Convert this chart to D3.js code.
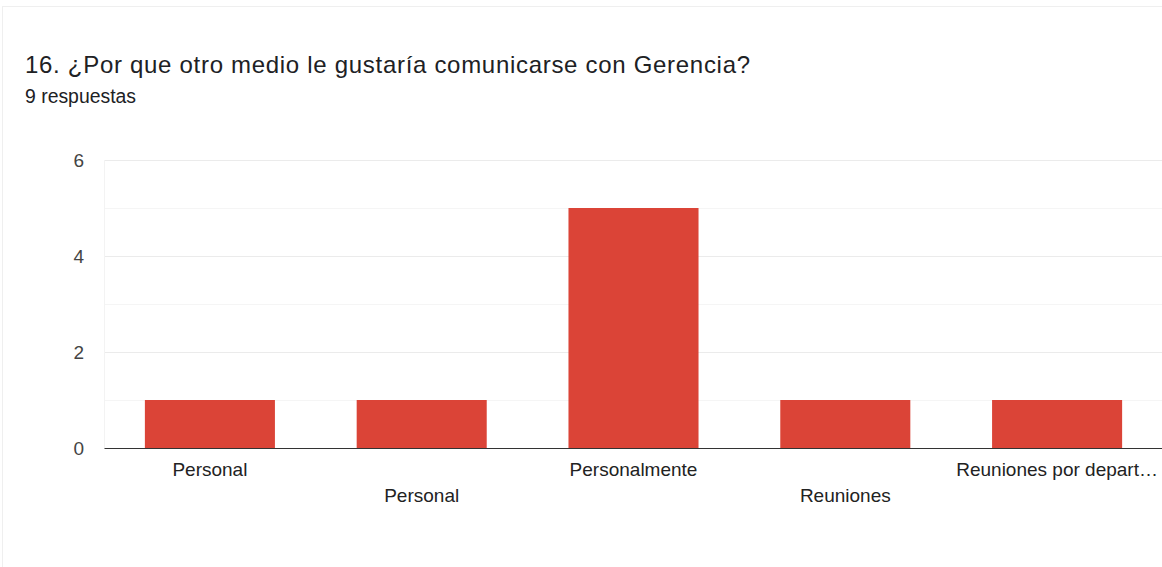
<!DOCTYPE html>
<html>
<head>
<meta charset="utf-8">
<script src="https://cdn.jsdelivr.net/npm/d3@7/dist/d3.min.js"></script>
<style>
  html, body { margin: 0; padding: 0; background: #fff; }
  svg { display: block; }
  text { font-family: "Liberation Sans", Arial, sans-serif; }
</style>
</head>
<body>
<svg id="chart" width="1162" height="567"></svg>
<script>
// Survey question and responses
const title = "16. ¿Por que otro medio le gustaría comunicarse con Gerencia?";
const subtitle = "9 respuestas";
const categories = ["Personal", "Personal ", "Personalmente", "Reuniones", "Reuniones por depart…"];
const counts = [1, 1, 5, 1, 1];
const yTicks = [0, 2, 4, 6];
const yMinorTicks = [1, 3, 5];

const svg = d3.select("#chart");
const W = 1162, H = 567;
const margin = { left: 104, right: -1, top: 160, bottom: 119 };
const labelFont = "\"Liberation Sans\", Arial, sans-serif";

// card border
svg.append("rect")
  .attr("x", 2.5).attr("y", 6.5)
  .attr("width", W).attr("height", H)
  .attr("fill", "#fff")
  .attr("stroke", "#efefef");

svg.append("text")
  .attr("x", 25).attr("y", 73)
  .attr("font-family", "\"Open Sans\", Roboto, sans-serif")
  .attr("font-size", 24)
  .attr("letter-spacing", 0.7)
  .attr("fill", "#202124")
  .text(title);

svg.append("text")
  .attr("x", 25).attr("y", 103)
  .attr("font-size", 19.4)
  .attr("fill", "#202124")
  .text(subtitle);

const x = d3.scaleBand()
  .domain(categories)
  .range([margin.left, W - margin.right])
  .paddingInner(0.386)
  .paddingOuter(0.193);

const y = d3.scaleLinear()
  .domain([0, 6])
  .range([H - margin.bottom, margin.top]);

// minor gridlines
svg.append("g").selectAll("line")
  .data(yMinorTicks).join("line")
  .attr("x1", margin.left).attr("x2", W)
  .attr("y1", d => y(d) + 0.5).attr("y2", d => y(d) + 0.5)
  .attr("stroke", "#f5f5f5");

// major gridlines
svg.append("g").selectAll("line")
  .data(yTicks.filter(d => d > 0)).join("line")
  .attr("x1", margin.left).attr("x2", W)
  .attr("y1", d => y(d) + 0.5).attr("y2", d => y(d) + 0.5)
  .attr("stroke", "#ebebeb");

// left frame edge
svg.append("line")
  .attr("x1", margin.left + 0.5).attr("x2", margin.left + 0.5)
  .attr("y1", y(6)).attr("y2", y(0))
  .attr("stroke", "#f3f3f3");

// y axis labels
const yAxis = d3.axisLeft(y).tickValues(yTicks).tickFormat(d3.format("d"))
  .tickSize(0).tickPadding(20);
const gy = svg.append("g")
  .attr("transform", `translate(${margin.left},0)`)
  .call(yAxis);
gy.select(".domain").remove();
gy.selectAll("text")
  .attr("font-size", 19)
  .attr("fill", "#444")
  .attr("font-family", labelFont)
  .attr("dy", "0.36em");

// bars
svg.append("g").selectAll("rect")
  .data(categories).join("rect")
  .attr("x", d => x(d))
  .attr("width", x.bandwidth())
  .attr("y", (d, i) => y(counts[i]))
  .attr("height", (d, i) => y(0) - y(counts[i]))
  .attr("fill", "#db4437");

// baseline and category labels (staggered on two rows)
const xAxis = d3.axisBottom(x).tickSize(0).tickPadding(15);
const gx = svg.append("g")
  .attr("transform", `translate(0,${y(0)})`)
  .call(xAxis);
gx.select(".domain")
  .attr("stroke", "#333")
  .attr("stroke-width", 1.2);
gx.selectAll(".tick text")
  .attr("font-size", 19)
  .attr("fill", "#222")
  .attr("font-family", labelFont)
  .attr("dy", (d, i) => i % 2 === 0 ? "0.71em" : "2.03em");
</script>
</body>
</html>
